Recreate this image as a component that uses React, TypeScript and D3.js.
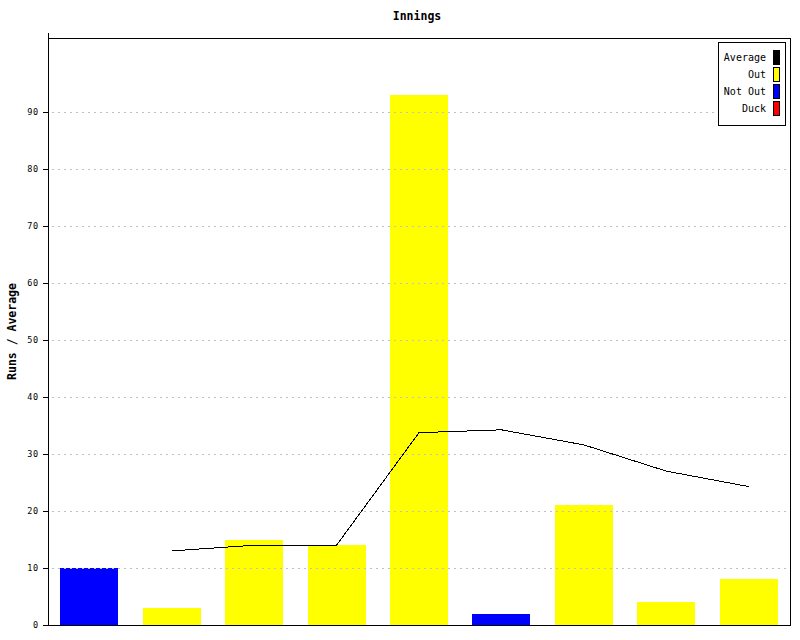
import React from "react";
import * as d3 from "d3";

const innings = ["1", "2", "3", "4", "5", "6", "7", "8", "9"];
const runs = [10, 3, 15, 14, 93, 2, 21, 4, 8];
const status = ["Not Out", "Out", "Out", "Out", "Out", "Not Out", "Out", "Out", "Out"];
const average: (number | null)[] = [null, 13, 14, 14, 33.75, 34.25, 31.6, 27, 24.29];
const yTicks = [0, 10, 20, 30, 40, 50, 60, 70, 80, 90];
const legendItems = ["Average", "Out", "Not Out", "Duck"];
const legendColors = ["#000000", "#ffff00", "#0000ff", "#ff0000"];
const statusColors: Record<string, string> = { Out: "#ffff00", "Not Out": "#0000ff", Duck: "#ff0000" };

const W = 800;
const H = 640;
const L = 48, R = 790, T = 38, B = 625;
const MONO = "'DejaVu Sans Mono', 'Liberation Mono', monospace";

export default function App() {
  const x = d3.scaleBand<string>().domain(innings).range([L, R]).paddingInner(0.296).paddingOuter(0.148);
  const y = d3.scaleLinear().domain([0, 103]).range([B, T]);
  const pts = innings
    .map((k, i) => ({ k, v: average[i] }))
    .filter((d) => d.v !== null) as { k: string; v: number }[];
  const line = d3
    .line<{ k: string; v: number }>()
    .x((d) => (x(d.k) as number) + x.bandwidth() / 2)
    .y((d) => y(d.v));

  return (
    <svg
      width={W}
      height={H}
      style={{ position: "absolute", left: 0, top: 0, background: "#fff" }}
      fontFamily={MONO}
    >
      <rect x={0} y={0} width={W} height={H} fill="#fff" />
      <text x={417} y={20} textAnchor="middle" fontSize={11.5} fontWeight="bold">
        Innings
      </text>
      <text
        transform={`translate(16, ${(T + B) / 2}) rotate(-90)`}
        textAnchor="middle"
        fontSize={11.5}
        fontWeight="bold"
      >
        Runs / Average
      </text>
      {/* bars */}
      {innings.map((k, i) => (
        <rect
          key={k}
          x={x(k)}
          y={y(runs[i])}
          width={x.bandwidth()}
          height={B - y(runs[i])}
          fill={statusColors[status[i]]}
          shapeRendering="crispEdges"
        />
      ))}
      {/* grid */}
      {yTicks.filter((t) => t > 0).map((t) => (
        <line
          key={t}
          x1={L + 4}
          x2={786}
          y1={Math.round(y(t)) + 0.5}
          y2={Math.round(y(t)) + 0.5}
          stroke="#c0c0c0"
          strokeDasharray="2,4"
          shapeRendering="crispEdges"
        />
      ))}
      {/* ticks */}
      {yTicks.map((t) => (
        <g key={t}>
          <line x1={43} x2={L} y1={Math.round(y(t)) + 0.5} y2={Math.round(y(t)) + 0.5} stroke="#000" shapeRendering="crispEdges" />
          <text x={39} y={y(t)} dy="0.35em" textAnchor="end" fontSize={8.5} letterSpacing={0.8}>
            {t}
          </text>
        </g>
      ))}
      {/* frame */}
      <g stroke="#000" shapeRendering="crispEdges" fill="none">
        <line x1={L + 0.5} x2={L + 0.5} y1={33} y2={B + 0.5} />
        <line x1={L} x2={R + 0.5} y1={T + 0.5} y2={T + 0.5} />
        <line x1={R + 0.5} x2={R + 0.5} y1={T} y2={B + 0.5} />
        <line x1={L} x2={R + 0.5} y1={B + 0.5} y2={B + 0.5} />
      </g>
      {/* average line */}
      <path d={line(pts) || ""} fill="none" stroke="#000" strokeWidth={1} shapeRendering="crispEdges" />
      {/* legend */}
      <rect x={718.5} y={42.5} width={67} height={83} fill="#fff" stroke="#000" shapeRendering="crispEdges" />
      {legendItems.map((name, i) => (
        <g key={name}>
          <text x={766} y={57 + i * 17} dy="0.35em" textAnchor="end" fontSize={10}>
            {name}
          </text>
          <rect
            x={773.5}
            y={50.5 + i * 17}
            width={6}
            height={14}
            fill={legendColors[i]}
            stroke="#000"
            shapeRendering="crispEdges"
          />
        </g>
      ))}
    </svg>
  );
}
